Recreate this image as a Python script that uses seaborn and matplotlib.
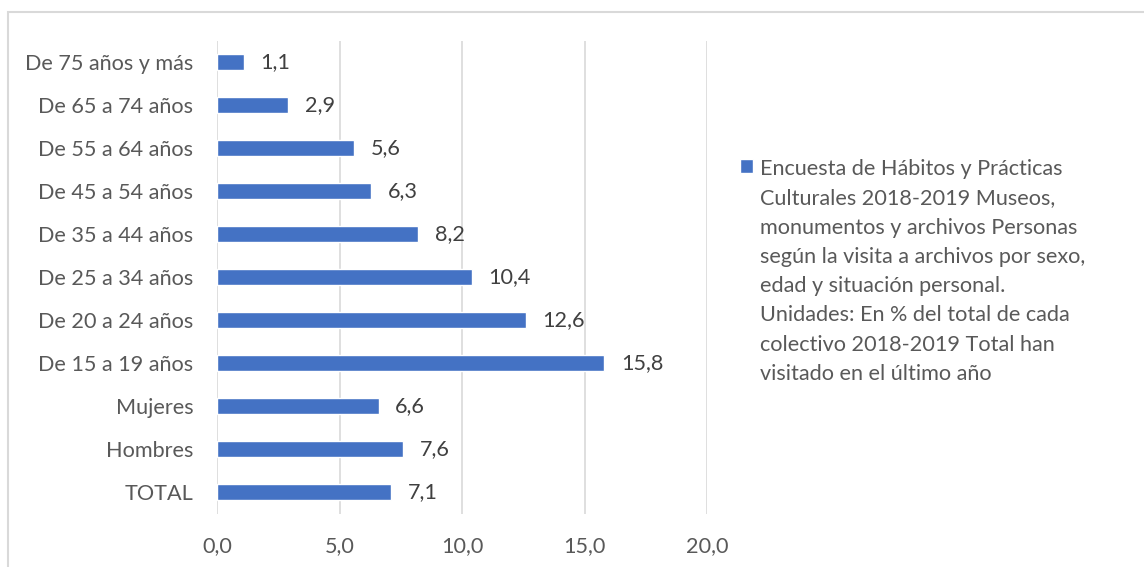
import matplotlib
matplotlib.use("Agg")
import matplotlib.pyplot as plt
import seaborn as sns
import pandas as pd
from matplotlib.patches import Rectangle

categories = ["De 75 años y más", "De 65 a 74 años", "De 55 a 64 años", "De 45 a 54 años",
              "De 35 a 44 años", "De 25 a 34 años", "De 20 a 24 años", "De 15 a 19 años",
              "Mujeres", "Hombres", "TOTAL"]
values = [1.1, 2.9, 5.6, 6.3, 8.2, 10.4, 12.6, 15.8, 6.6, 7.6, 7.1]
x_ticks = [0, 5, 10, 15, 20]
x_tick_labels = ["0,0", "5,0", "10,0", "15,0", "20,0"]
series_label = ("Encuesta de Hábitos y Prácticas\nCulturales 2018-2019 Museos,\n"
                "monumentos y archivos Personas\nsegún la visita a archivos por sexo,\n"
                "edad y situación personal.\nUnidades: En % del total de cada\n"
                "colectivo 2018-2019 Total han\nvisitado en el último año")

sns.set_style("white")
plt.rcParams['font.family'] = ['Lato', 'DejaVu Sans']

FS = 15.6

df = pd.DataFrame({"cat": categories, "val": values})

fig = plt.figure(figsize=(11.44, 5.67), dpi=100)
ax = fig.add_axes([217/1144, 53.5/567, 490/1144, 473/567])

sns.barplot(data=df, y="cat", x="val", orient="h", color="#4472C4", width=0.37,
            saturation=1, ax=ax, label=series_label)

ax.set_xlim(0, 20)
ax.set_xticks(x_ticks)
ax.set_xticklabels(x_tick_labels)
ax.set_xlabel("")
ax.set_ylabel("")
for s in ax.spines.values():
    s.set_visible(False)
ax.grid(axis="x", color="#d9d9d9", linewidth=1.2)
ax.set_axisbelow(True)
ax.tick_params(axis="both", length=0, labelsize=FS, colors="#595959")
ax.tick_params(axis="x", pad=16)
ax.tick_params(axis="y", pad=17)

for cont in ax.containers:
    labels = [f"{v:.1f}".replace(".", ",") for v in cont.datavalues]
    ax.bar_label(cont, labels=labels, padding=12, fontsize=FS, color="#404040")

leg = ax.legend(loc="upper left", bbox_to_anchor=(740/1144, 1 - 159/567),
                bbox_transform=fig.transFigure, frameon=False, fontsize=FS,
                handlelength=0.6, handleheight=0.6, handletextpad=0.3,
                labelcolor="#595959", borderaxespad=0, borderpad=0)
for t in leg.get_texts():
    t.set_linespacing(1.58)
for col in leg._legend_handle_box.get_children():
    for row in col.get_children():
        row.align = "top"

fig.patches.append(Rectangle((7.5/1144, -0.1), 1.2, (567-11.5)/567 + 0.1,
                             transform=fig.transFigure, fill=False,
                             edgecolor="#d9d9d9", linewidth=1.5, figure=fig))

fig.savefig("out.png", dpi=100)
